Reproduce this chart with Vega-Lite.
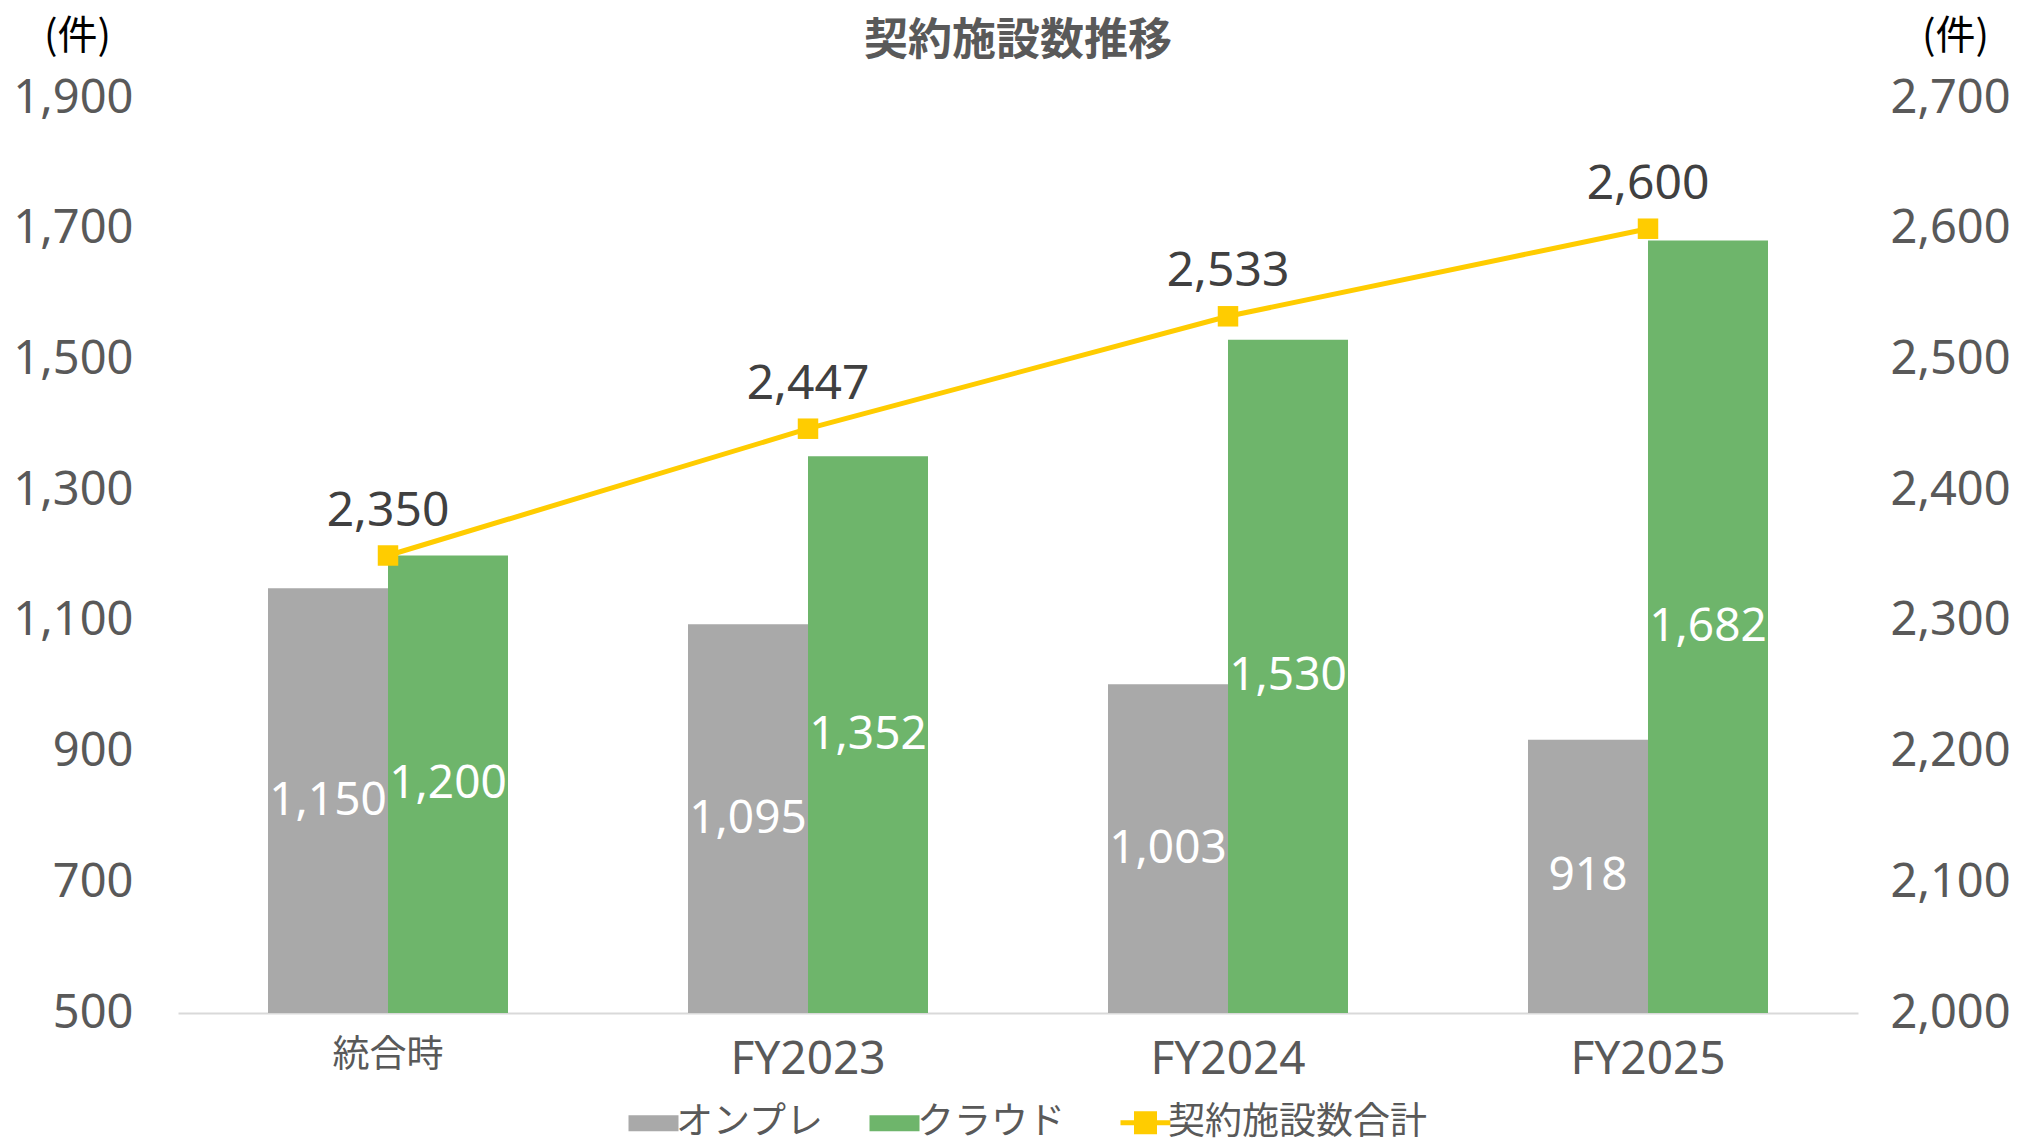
{
  "$schema": "https://vega.github.io/schema/vega-lite/v6.json",
  "width": 1680,
  "height": 915,
  "autosize": {"type": "none"},
  "padding": {"left": 178, "top": 98, "right": 165, "bottom": 133},
  "background": "white",
  "title": {
    "text": "契約施設数推移",
    "font": "Noto Sans CJK JP",
    "fontSize": 44,
    "fontWeight": "bold",
    "color": "#595959",
    "anchor": "middle",
    "offset": -48
  },
  "datasets": {
    "bars": [
      {"category": "統合時", "series": "オンプレ", "value": 1150},
      {"category": "統合時", "series": "クラウド", "value": 1200},
      {"category": "FY2023", "series": "オンプレ", "value": 1095},
      {"category": "FY2023", "series": "クラウド", "value": 1352},
      {"category": "FY2024", "series": "オンプレ", "value": 1003},
      {"category": "FY2024", "series": "クラウド", "value": 1530},
      {"category": "FY2025", "series": "オンプレ", "value": 918},
      {"category": "FY2025", "series": "クラウド", "value": 1682}
    ],
    "totals": [
      {"category": "統合時", "total": 2350},
      {"category": "FY2023", "total": 2447},
      {"category": "FY2024", "total": 2533},
      {"category": "FY2025", "total": 2600}
    ]
  },
  "encoding": {
    "x": {
      "field": "category",
      "type": "nominal",
      "sort": ["統合時", "FY2023", "FY2024", "FY2025"],
      "scale": {"paddingInner": 0, "paddingOuter": 0},
      "axis": {
        "title": null,
        "labelAngle": 0,
        "ticks": false,
        "domain": true,
        "domainColor": "#D9D9D9",
        "domainWidth": 2,
        "grid": false,
        "labelColor": "#595959",
        "labelFont": "'Noto Sans', 'Noto Sans CJK JP'",
        "labelFontSize": {"condition": {"test": "datum.value === '統合時'", "value": 37}, "value": 46},
        "labelPadding": 24
      }
    }
  },
  "layer": [
    {
      "data": {"name": "bars"},
      "mark": {"type": "bar", "clip": true},
      "encoding": {
        "xOffset": {
          "field": "series",
          "type": "nominal",
          "sort": ["オンプレ", "クラウド"],
          "scale": {"paddingInner": 0, "paddingOuter": 0.75}
        },
        "y": {
          "field": "value",
          "type": "quantitative",
          "scale": {"domain": [500, 1900], "zero": false, "nice": false},
          "axis": {
            "values": [500, 700, 900, 1100, 1300, 1500, 1700, 1900],
            "format": ",d",
            "grid": false,
            "domain": false,
            "ticks": false,
            "labelColor": "#595959",
            "labelFont": "Noto Sans",
            "labelFontSize": 47,
            "labelPadding": 45,
            "title": "(件)",
            "titleAngle": 0,
            "titleX": -101,
            "titleY": -62,
            "titleAlign": "center",
            "titleBaseline": "middle",
            "titleFont": "Noto Sans CJK JP",
            "titleFontSize": 40,
            "titleFontWeight": "normal",
            "titleColor": "#000000"
          }
        },
        "color": {
          "field": "series",
          "type": "nominal",
          "scale": {
            "domain": ["オンプレ", "クラウド", "契約施設数合計"],
            "range": ["#A9A9A9", "#6EB56B", "#FFCC00"]
          },
          "legend": {
            "title": null,
            "orient": "none",
            "legendX": 457,
            "legendY": 1006,
            "direction": "horizontal",
            "symbolSize": 2500,
            "symbolStrokeWidth": 0,
            "labelFont": "Noto Sans CJK JP",
            "labelFontSize": 37,
            "labelColor": "#595959",
            "labelOffset": 4,
            "labelLimit": 600,
            "columnPadding": 45,
            "encode": {
              "symbols": {
                "update": {
                  "shape": {"signal": "datum.value === '契約施設数合計' ? 'M-1,0H1M-0.36,-0.36H0.36V0.36H-0.36Z' : 'M-1,-0.32H1V0.32H-1Z'"},
                  "strokeWidth": {"signal": "datum.value === '契約施設数合計' ? 5 : 0"},
                  "fill": {"signal": "scale('color', datum.value)"},
                  "stroke": {"signal": "scale('color', datum.value)"},
                  "opacity": {"value": 1}
                }
              }
            }
          }
        }
      }
    },
    {
      "data": {"name": "bars"},
      "mark": {"type": "text", "color": "#FFFFFF", "font": "Noto Sans", "fontSize": 46, "baseline": "middle", "align": "center"},
      "encoding": {
        "xOffset": {
          "field": "series",
          "type": "nominal",
          "sort": ["オンプレ", "クラウド"],
          "scale": {"paddingInner": 0, "paddingOuter": 0.75}
        },
        "y": {
          "field": "value",
          "type": "quantitative",
          "scale": {"domain": [500, 3300], "zero": false, "nice": false},
          "axis": null
        },
        "text": {"field": "value", "type": "quantitative", "format": ",d"}
      }
    },
    {
      "data": {"name": "totals"},
      "encoding": {
        "y": {
          "field": "total",
          "type": "quantitative",
          "scale": {"domain": [2000, 2700], "zero": false, "nice": false},
          "axis": {
            "orient": "right",
            "values": [2000, 2100, 2200, 2300, 2400, 2500, 2600, 2700],
            "format": ",d",
            "grid": false,
            "domain": false,
            "ticks": false,
            "labelColor": "#595959",
            "labelFont": "Noto Sans",
            "labelFontSize": 47,
            "labelPadding": 32,
            "title": "(件)",
            "titleAngle": 0,
            "titleX": 97,
            "titleY": -62,
            "titleAlign": "center",
            "titleBaseline": "middle",
            "titleFont": "Noto Sans CJK JP",
            "titleFontSize": 40,
            "titleFontWeight": "normal",
            "titleColor": "#000000"
          }
        }
      },
      "layer": [
        {
          "mark": {
            "type": "line",
            "strokeWidth": 5,
            "point": {"shape": "square", "size": 420, "filled": true, "opacity": 1}
          },
          "encoding": {
            "color": {"datum": "契約施設数合計"}
          }
        },
        {
          "mark": {"type": "text", "color": "#404040", "font": "Noto Sans", "fontSize": 48, "baseline": "middle", "align": "center", "dy": -44},
          "encoding": {
            "text": {"field": "total", "type": "quantitative", "format": ",d"}
          }
        }
      ]
    }
  ],
  "resolve": {"scale": {"y": "independent"}},
  "config": {
    "view": {"stroke": null},
    "axis": {"grid": false}
  }
}
